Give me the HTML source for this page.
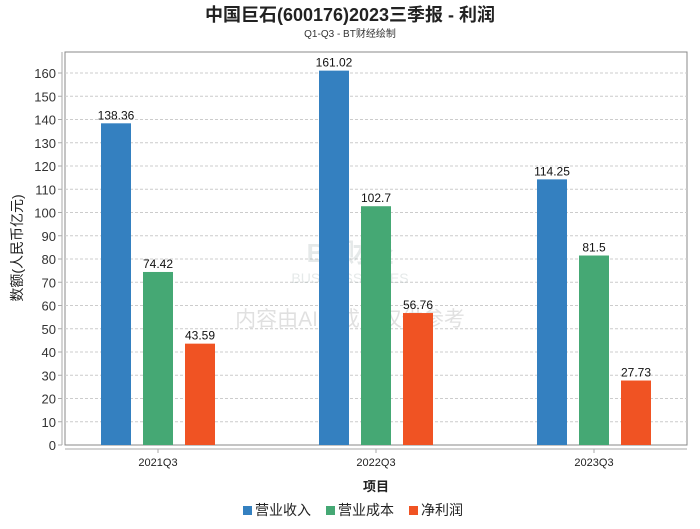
<!DOCTYPE html>
<html><head><meta charset="utf-8"><style>
body{margin:0;background:#fff;}
svg text{font-family:"Liberation Sans","Noto Sans CJK SC",sans-serif;}
</style></head><body>
<svg width="700" height="524" viewBox="0 0 700 524">
<text x="350" y="21" text-anchor="middle" font-size="18" font-weight="bold" fill="#222">中国巨石(600176)2023三季报 - 利润</text>
<text x="350" y="37" text-anchor="middle" font-size="10" fill="#333" font-family="Liberation Mono,monospace">Q1-Q3 - BT财经绘制</text>
<rect x="65" y="52" width="622" height="393" fill="#fff" stroke="#888"/>
<g id="grid"></g>
<g id="yticks"></g>
<line x1="62" y1="52" x2="62" y2="445" stroke="#aaa"/>
<line x1="65" y1="449" x2="687" y2="449" stroke="#aaa"/>
<g opacity="0.25">
<text x="350" y="262" text-anchor="middle" font-size="26" font-weight="bold" fill="#9aa" font-family="Liberation Serif,Noto Serif CJK SC,serif">BT财经</text>
<text x="350" y="283" text-anchor="middle" font-size="14" fill="#9aa" font-family="Liberation Serif,serif">BUSINESS TIMES</text>
<text x="350" y="326" text-anchor="middle" font-size="21" fill="#888">内容由AI生成，仅供参考</text>
</g>
<g id="bars"></g>
<g id="xlabels"></g>
<text x="22" y="248" text-anchor="middle" font-size="14" fill="#222" transform="rotate(-90 22 248)">数额(人民币亿元)</text>
<text x="376" y="491" text-anchor="middle" font-size="13" font-weight="bold" fill="#222">项目</text>
<g>
<g><rect x="243" y="506" width="9" height="9" fill="#3480c0"/><text x="255" y="515" font-size="14" fill="#222">营业收入</text></g>
<g><rect x="326" y="506" width="9" height="9" fill="#45a874"/><text x="338" y="515" font-size="14" fill="#222">营业成本</text></g>
<g><rect x="409" y="506" width="9" height="9" fill="#f05323"/><text x="421" y="515" font-size="14" fill="#222">净利润</text></g>
</g>
</svg>
<script>
const categories=["2021Q3","2022Q3","2023Q3"];
const revenue=[138.36,161.02,114.25];
const cost=[74.42,102.7,81.5];
const profit=[43.59,56.76,27.73];
const yTicks=[0,10,20,30,40,50,60,70,80,90,100,110,120,130,140,150,160];
const NS="http://www.w3.org/2000/svg";
const y=v=>445-v*2.325;
const xc=i=>158+i*218;
function mk(tag,attrs,parent){const e=document.createElementNS(NS,tag);for(const k in attrs)e.setAttribute(k,attrs[k]);parent.appendChild(e);return e;}
const grid=document.getElementById('grid'),yt=document.getElementById('yticks'),bars=document.getElementById('bars'),xl=document.getElementById('xlabels');
yTicks.forEach(t=>{
 if(t>0){const l=mk('line',{x1:65,x2:687,y1:y(t),y2:y(t),stroke:'#ccc','stroke-dasharray':'3,2'},grid);
 
 }
 const tx=mk('text',{x:56,y:y(t)+5,'text-anchor':'end','font-size':13,fill:'#333'},yt);tx.textContent=t;
 
 
 mk('line',{x1:58,x2:62,y1:y(t),y2:y(t),stroke:'#aaa'},yt);
});
const series=[[revenue,'#3480c0','revenue'],[cost,'#45a874','cost'],[profit,'#f05323','profit']];
categories.forEach((c,i)=>{
 series.forEach(([arr,col,nm],j)=>{
  const x=xc(i)+(j-1)*42-15;
  const r=mk('rect',{x:x,y:y(arr[i]),width:30,height:445-y(arr[i]),fill:col},bars);
  
  
  const t=mk('text',{x:x+15,y:y(arr[i])-4,'text-anchor':'middle','font-size':12,fill:'#111'},bars);t.textContent=arr[i];
  
  
 });
 mk('line',{x1:xc(i),x2:xc(i),y1:449,y2:453,stroke:'#aaa'},xl);
 const t=mk('text',{x:xc(i),y:466,'text-anchor':'middle','font-size':11,fill:'#222'},xl);t.textContent=c;
 
 
});
</script>
</body></html>
